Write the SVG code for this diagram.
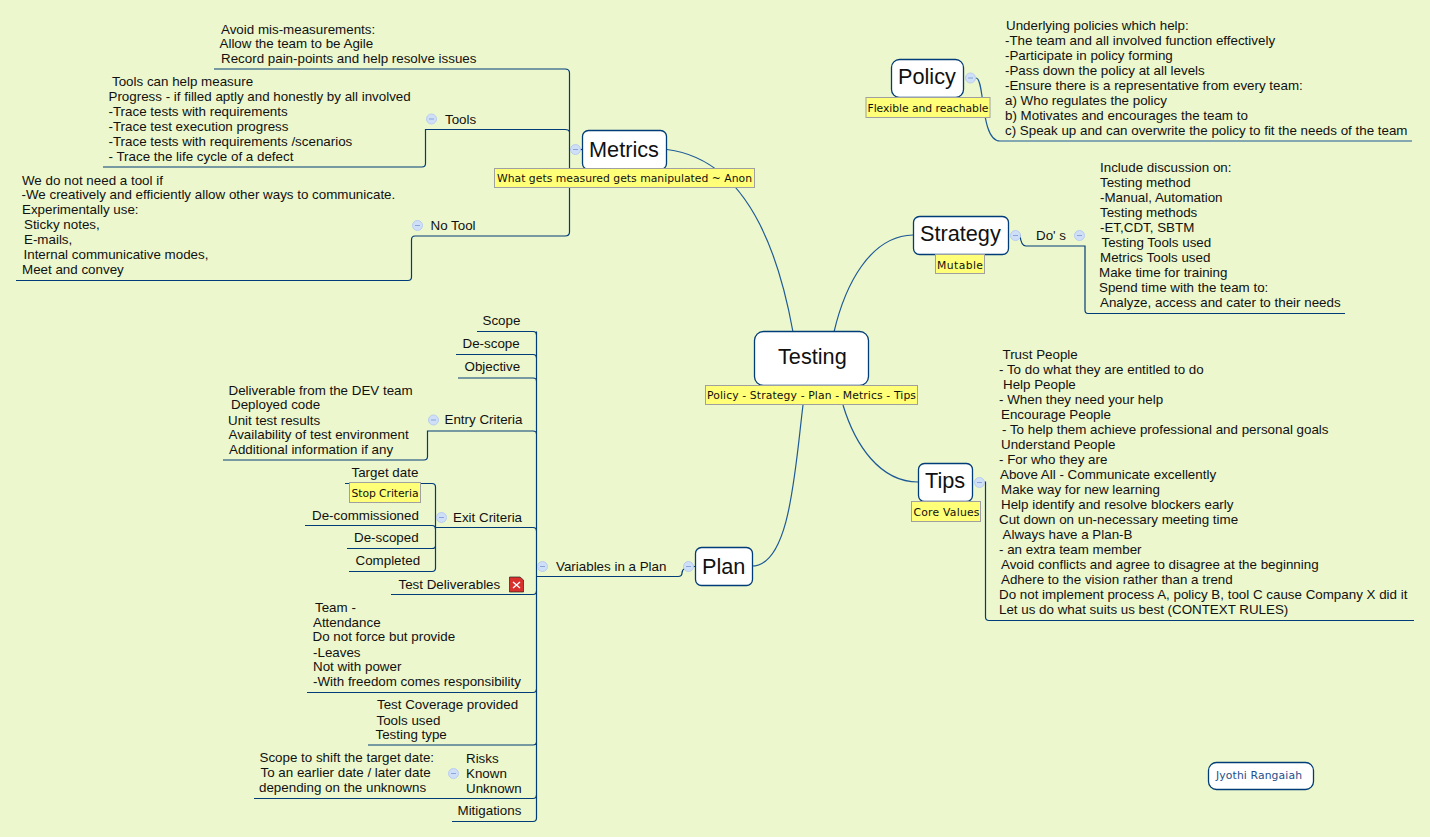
<svg xmlns="http://www.w3.org/2000/svg" width="1430" height="837" viewBox="0 0 1430 837">
<style>
text{font-family:"Liberation Sans",Arial,sans-serif;font-size:13.36px;fill:#111;transform:translateY(-.5px)}
.t{font-size:21.7px}
.n{fill:#fff;stroke:#003c78;stroke-width:1.3}
.y{fill:#ffff78;stroke:#a0a0a0;stroke-width:1}
.l{font-family:"DejaVu Sans",Verdana,sans-serif;font-size:10.8px;fill:#111}
.c{fill:none;stroke:#003c78;stroke-width:1.2}
.b{fill:none;stroke:#1d5a96;stroke-width:1.2}
.m{fill:#cfdff7;stroke:#b9cdee;stroke-width:1}
.d{stroke:#8aa6d4;stroke-width:1}
</style>
<defs><g id="fold"><circle class="m" r="5"/><path class="d" d="M-2.500 0H2.500"/></g></defs>
<rect width="1430" height="837" fill="#ecf7cd"/>
<g id="connectors">
<path class="b" d="M793 332C780 260 750 160 667 149.500"/>
<path class="b" d="M834 332C845 285 870 236 913 235"/>
<path class="b" d="M843 405C855 445 880 482 918 482"/>
<path class="b" d="M803 405C795 470 790 566 752 566"/>
<path class="b" d="M976 78C985 78 980 141 1000 141H1412"/>
<path class="c" d="M214 69H565Q569.500 69 569.500 73V232Q569.500 236 565 236H415Q411.500 236 411.500 240V277Q411.500 280.500 408 280.500H16"/>
<path class="c" d="M103 167H422Q425.500 167 425.500 163.500V129.500H565Q569 129.500 569.500 132"/>
<path class="c" d="M569.500 149.500H582"/>
<path class="c" d="M1016 235H1020Q1021 246 1026 246H1085V310Q1085 313.500 1088 313.500H1345"/>
<path class="c" d="M979 482H985.500V617Q985.500 620.500 989 620.500H1414"/>
<path class="c" d="M536.500 331.500V818Q536.500 821.500 533 821.500H452"/>
<path class="c" d="M477 331.500H533Q536.500 331.500 536.500 335"/>
<path class="c" d="M456 354.500H533Q536.500 354.500 536.500 358"/>
<path class="c" d="M458 378H533Q536.500 378 536.500 381"/>
<path class="c" d="M223 460H424Q427.500 460 427.500 456.500V431H533Q536.500 431 536.500 434"/>
<path class="c" d="M345 483.500H432Q435.500 483.500 435.500 487V568Q435.500 571.500 432 571.500H349"/>
<path class="c" d="M305 525.500H432Q435.500 525.500 435.500 529"/>
<path class="c" d="M347 548.500H432Q435.500 548.500 435.500 546"/>
<path class="c" d="M435.500 527.500H533Q536.500 527.500 536.500 531"/>
<path class="c" d="M391 594.500H533Q536.500 594.500 536.500 591"/>
<path class="c" d="M307 692.500H533Q536.500 692.500 536.500 689"/>
<path class="c" d="M368 745H533Q536.500 745 536.500 742"/>
<path class="c" d="M254 798.500H533Q536.500 798.500 536.500 795"/>
<path class="c" d="M536.500 576.500H678Q682 576.500 682 573Q682 566.500 695 566.500"/>
</g>
<g id="testing"><rect class="n" x="754.500" y="331.500" width="114" height="54" rx="9"/><text class="t" x="778" y="364.500">Testing</text>
<rect class="y" x="705.500" y="385.500" width="212" height="19"/><text class="l" x="707" y="399" textLength="209">Policy - Strategy - Plan - Metrics - Tips</text></g>
<g id="metrics"><rect class="n" x="582.500" y="130.500" width="84" height="39" rx="6"/><text class="t" x="589" y="157.500">Metrics</text>
<rect class="y" x="494.500" y="168.500" width="260" height="19"/><text class="l" x="497" y="182" textLength="255">What gets measured gets manipulated ~ Anon</text>
<use href="#fold" x="575.500" y="149.500"/></g>
<g id="metrics-avoid"><text x="221" y="34">Avoid mis-measurements:</text><text x="219.500" y="48">Allow the team to be Agile</text><text x="221" y="63">Record pain-points and help resolve issues</text></g>
<g id="tools"><text x="445" y="124">Tools</text><use href="#fold" x="431.500" y="119"/>
<text x="112" y="86">Tools can help measure</text><text x="108.500" y="101">Progress - if filled aptly and honestly by all involved</text><text x="108.500" y="116">-Trace tests with requirements</text><text x="108.500" y="131">-Trace test execution progress</text><text x="108.500" y="146">-Trace tests with requirements /scenarios</text><text x="108.500" y="161">- Trace the life cycle of a defect</text></g>
<g id="no-tool"><text x="430.500" y="230">No Tool</text><use href="#fold" x="417.500" y="225.500"/>
<text x="22" y="185">We do not need a tool if</text><text x="21.500" y="199">-We creatively and efficiently allow other ways to communicate.</text><text x="22" y="214">Experimentally use:</text><text x="24" y="229">Sticky notes,</text><text x="24" y="244">E-mails,</text><text x="23.500" y="259">Internal communicative modes,</text><text x="22" y="274">Meet and convey</text></g>
<g id="policy"><rect class="n" x="891.500" y="59.500" width="72" height="38" rx="8"/><text class="t" x="898" y="84.500">Policy</text>
<rect class="y" x="866" y="97.500" width="124" height="20"/><text class="l" x="867.500" y="112" textLength="121">Flexible and reachable</text>
<use href="#fold" x="970.500" y="78"/>
<text x="1006" y="30">Underlying policies which help:</text><text x="1005" y="45">-The team and all involved function effectively</text><text x="1005" y="60">-Participate in policy forming</text><text x="1005" y="75">-Pass down the policy at all levels</text><text x="1005" y="90">-Ensure there is a representative from every team:</text><text x="1005" y="105">a) Who regulates the policy</text><text x="1005" y="120">b) Motivates and encourages the team to</text><text x="1005" y="135">c) Speak up and can overwrite the policy to fit the needs of the team</text></g>
<g id="strategy"><rect class="n" x="913.500" y="216.500" width="95" height="38" rx="6"/><text class="t" x="920" y="241.500">Strategy</text>
<rect class="y" x="935.500" y="254.500" width="49" height="19"/><text class="l" x="937" y="269" textLength="46">Mutable</text>
<use href="#fold" x="1015.500" y="235.500"/>
<text x="1036" y="240">Do' s</text><use href="#fold" x="1079.500" y="235.500"/>
<text x="1100" y="172">Include discussion on:</text><text x="1100" y="187">Testing method</text><text x="1100" y="202">-Manual, Automation</text><text x="1100" y="217">Testing methods</text><text x="1100" y="232">-ET,CDT, SBTM</text><text x="1101.500" y="247">Testing Tools used</text><text x="1100" y="262">Metrics Tools used</text><text x="1099" y="277">Make time for training</text><text x="1099" y="292">Spend time with the team to:</text><text x="1100" y="307">Analyze, access and cater to their needs</text></g>
<g id="tips"><rect class="n" x="918.500" y="463.500" width="54" height="38" rx="6"/><text class="t" x="925" y="488.500">Tips</text>
<rect class="y" x="911.500" y="501.500" width="69" height="20"/><text class="l" x="913.500" y="516" textLength="66">Core Values</text>
<use href="#fold" x="979.500" y="482.500"/>
<text x="1002.500" y="359">Trust People</text><text x="999" y="374">- To do what they are entitled to do</text><text x="1003" y="389">Help People</text><text x="999" y="404">- When they need your help</text><text x="1001" y="419">Encourage People</text><text x="1002" y="434">- To help them achieve professional and personal goals</text><text x="1001" y="449">Understand People</text><text x="999" y="464">- For who they are</text><text x="1000" y="479">Above All - Communicate excellently</text><text x="1001" y="494">Make way for new learning</text><text x="1001" y="509">Help identify and resolve blockers early</text><text x="999" y="524">Cut down on un-necessary meeting time</text><text x="1002.500" y="539">Always have a Plan-B</text><text x="999" y="554">- an extra team member</text><text x="1001" y="569">Avoid conflicts and agree to disagree at the beginning</text><text x="1001" y="584">Adhere to the vision rather than a trend</text><text x="999" y="599">Do not implement process A, policy B, tool C cause Company X did it</text><text x="999" y="614">Let us do what suits us best (CONTEXT RULES)</text></g>
<g id="plan"><rect class="n" x="695.500" y="547.500" width="57" height="38" rx="6"/><text class="t" x="702" y="574">Plan</text>
<use href="#fold" x="688.500" y="566.500"/>
<text x="556" y="571">Variables in a Plan</text><use href="#fold" x="542.500" y="566.500"/></g>
<g id="plan-items"><text x="482.500" y="325">Scope</text><text x="462.500" y="348">De-scope</text><text x="464.500" y="371">Objective</text></g>
<g id="entry"><text x="444.500" y="424">Entry Criteria</text><use href="#fold" x="433.500" y="420"/>
<text x="228.500" y="395">Deliverable from the DEV team</text><text x="231" y="409">Deployed code</text><text x="228" y="425">Unit test results</text><text x="228.500" y="439">Availability of test environment</text><text x="229" y="454">Additional information if any</text></g>
<g id="exit"><text x="453" y="522">Exit Criteria</text><use href="#fold" x="441.500" y="517.500"/>
<text x="351.500" y="477">Target date</text>
<rect class="y" x="349.500" y="482.500" width="71" height="20"/><text class="l" x="351.500" y="497" textLength="67">Stop Criteria</text>
<text x="312" y="520">De-commissioned</text><text x="354" y="542">De-scoped</text><text x="355.500" y="565">Completed</text></g>
<g id="deliverables"><text x="398.500" y="589">Test Deliverables</text>
<path d="M509.500 592V577H520L523.500 580V592Z" fill="#d8302c" stroke="#222" stroke-width=".7"/><path d="M513 582l7 6M520 582l-7 6" stroke="#fff" stroke-width="1.4"/></g>
<g id="team"><text x="315" y="612">Team -</text><text x="313" y="627">Attendance</text><text x="312.500" y="641">Do not force but provide</text><text x="313" y="657">-Leaves</text><text x="313" y="671">Not with power</text><text x="313" y="686">-With freedom comes responsibility</text></g>
<g id="coverage"><text x="377" y="709">Test Coverage provided</text><text x="376.500" y="725">Tools used</text><text x="375.500" y="739">Testing type</text></g>
<g id="risks"><text x="466" y="763">Risks</text><text x="466" y="778">Known</text><text x="466" y="793">Unknown</text><use href="#fold" x="453.500" y="773.500"/>
<text x="259.500" y="762">Scope to shift the target date:</text><text x="260.500" y="777">To an earlier date / later date</text><text x="259" y="792">depending on the unknowns</text></g>
<g id="mitigations"><text x="457.500" y="815">Mitigations</text></g>
<g id="author"><rect class="n" x="1208.500" y="762.500" width="105" height="27" rx="8"/><text class="l" x="1216" y="779" textLength="86" style="fill:#1d4f8c">Jyothi Rangaiah</text></g>
</svg>
